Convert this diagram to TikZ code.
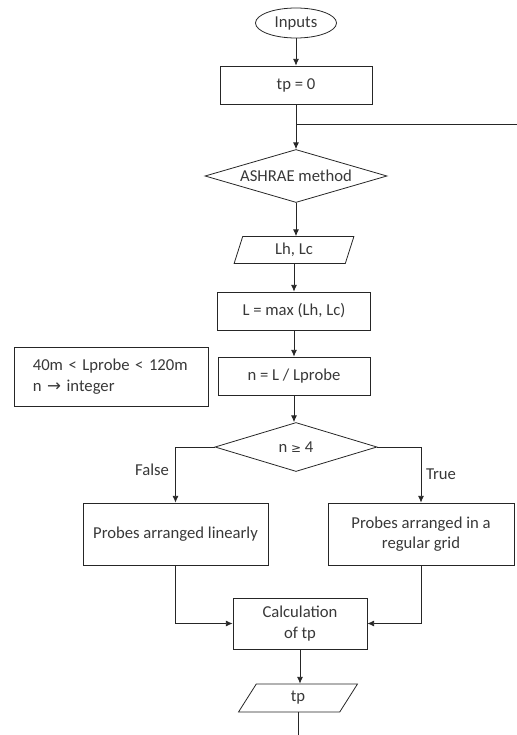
\documentclass[tikz,border=0pt]{standalone}
\usepackage{fontspec}
\setmainfont{Carlito}
\newfontfamily\symfont{DejaVu Sans}
\usetikzlibrary{shapes.geometric,arrows.meta}

\begin{document}
\begin{tikzpicture}[x=0.75pt,y=-0.75pt,
    font=\fontsize{12.5}{15.5}\selectfont, text=black!78,
    line width=0.6pt, draw=black!85,
    box/.style={draw, rectangle, inner sep=2pt, align=center},
    decision/.style={draw, diamond, inner sep=0pt},
    io/.style={draw, trapezium, trapezium left angle=77, trapezium right angle=103,
      trapezium stretches=true, inner sep=0pt},
    arr/.style={-{Latex[length=5pt,width=4.5pt]}}]
  \useasboundingbox (0,0) rectangle (517,735);

  % main column
  \node[draw, ellipse, inner sep=0pt, minimum width=60.75pt, minimum height=22.5pt] (inputs) at (296,23) {Inputs};
  \node[box, minimum width=114pt, minimum height=28.5pt] (tp0) at (296,85) {tp = 0};
  \coordinate (split) at (296,124);
  \coordinate (loopend) at (517,124);
  \node[decision, aspect=3.4, minimum width=136.5pt, minimum height=39.75pt] (ashrae) at (296,176) {ASHRAE method};
  \node[io, minimum width=90pt, minimum height=20.25pt] (lhlc) at (294,250) {Lh, Lc};
  \node[box, minimum width=114.75pt, minimum height=28.5pt] (lmax) at (294,311) {L = max (Lh, Lc)};
  \node[box, minimum width=114pt, minimum height=28.5pt] (nbox) at (294,376) {n = L / Lprobe};

  % side note
  \node[draw, rectangle, align=left, text width=118pt, inner xsep=14pt, minimum height=44.25pt] (note) at (111.5,376.5)
    {40m < Lprobe < 120m\\n {\symfont →} integer};

  % decision on n
  \node[decision, aspect=3.3, minimum width=121.5pt, minimum height=36.75pt] (ndec) at (296,447) {n {\symfont\small ≥} 4};
  \node (false) at (152,470) {False};
  \node (true) at (441,474) {True};
  \node[box, minimum width=138.75pt, minimum height=46.5pt] (linbox) at (175.5,534) {Probes arranged linearly};
  \node[box, minimum width=139.5pt, minimum height=46.5pt] (gridbox) at (421,534) {Probes arranged in a\\regular grid};

  % result
  \node[box, minimum width=100.5pt, minimum height=38.25pt] (calc) at (300,623.5) {Calculation\\of tp};
  \node[io, minimum width=89.25pt, minimum height=21pt] (tpout) at (298,698) {tp};
  \coordinate (exit) at (299,735);

  \draw[arr] (inputs) -- (tp0);
  \draw (tp0.south) -- (split) -- (loopend);
  \draw[arr] (split) -- (ashrae.north);
  \draw[arr] (ashrae.south) -- (ashrae.south |- lhlc.north);
  \draw[arr] (lhlc.south) -- (lhlc.south |- lmax.north);
  \draw[arr] (lmax.south) -- (lmax.south |- nbox.north);
  \draw[arr] (nbox.south) -- (nbox.south |- ndec.north);
  \draw[arr] (ndec.west) -| (linbox.north);
  \draw[arr] (ndec.east) -| (gridbox.north);
  \draw[arr] (linbox.south) |- (calc.west);
  \draw[arr] (gridbox.south) |- (calc.east);
  \draw[arr] (calc.south) -- (calc.south |- tpout.north);
  \draw (tpout.south) -- (tpout.south |- exit);
\end{tikzpicture}
\end{document}
